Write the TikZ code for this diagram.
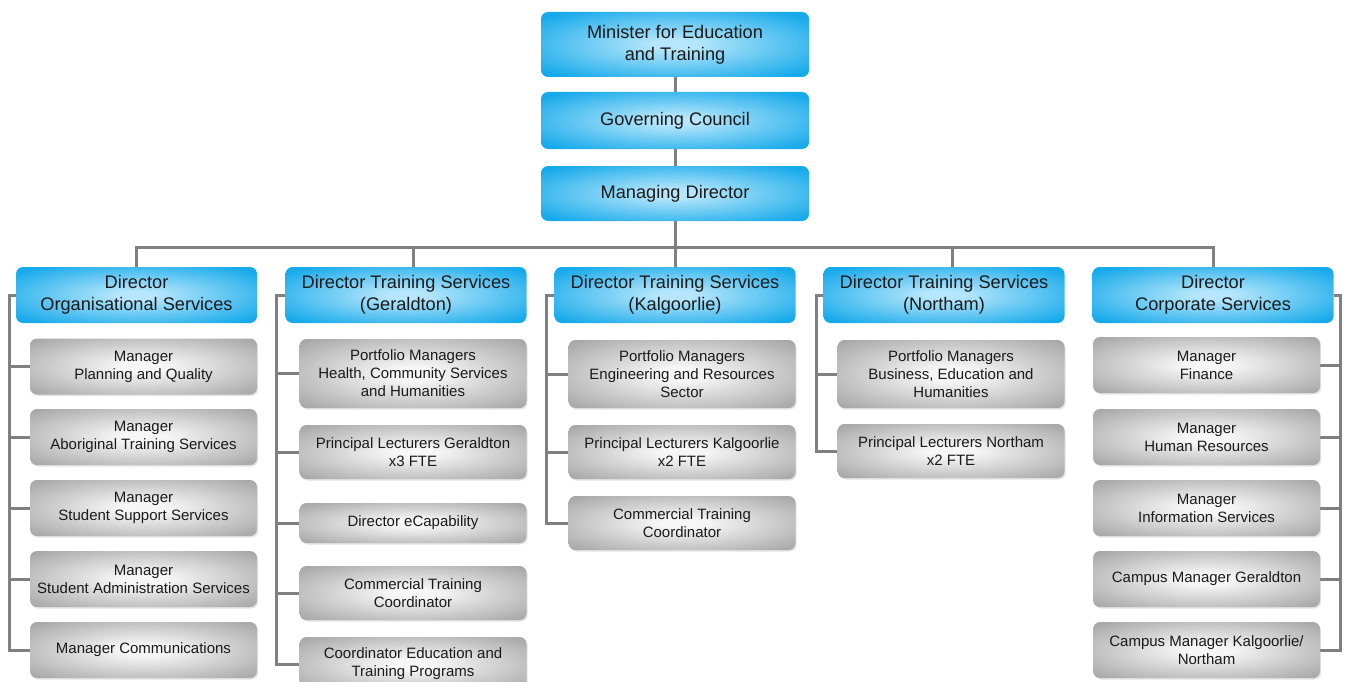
\documentclass[tikz,border=0pt]{standalone}
\usepackage{fontspec}
\setmainfont{Liberation Sans}
\usetikzlibrary{shadows,backgrounds}
\definecolor{bluedark}{HTML}{17AAEB}
\definecolor{bluelight}{HTML}{B5E6FB}
\definecolor{greydark}{HTML}{A2A2A2}
\definecolor{greylight}{HTML}{F6F6F6}
\definecolor{linegrey}{HTML}{808080}
\definecolor{txt}{HTML}{1A1A1A}
\pgfdeclareradialshading{blueglow}{\pgfpoint{0bp}{0bp}}{color(0bp)=(bluelight); color(4bp)=(bluelight); color(32bp)=(bluedark); color(60bp)=(bluedark)}
\pgfdeclareradialshading{greyglow}{\pgfpoint{0bp}{0bp}}{color(0bp)=(greylight); color(5bp)=(greylight); color(36bp)=(greydark); color(60bp)=(greydark)}
\tikzset{
  bluebox/.style={rounded corners=7pt, shading=blueglow,
    draw=none, align=center, inner sep=0pt, text=txt, font=\fontsize{18.2}{22}\selectfont},
  topbox/.style={bluebox, minimum width=268pt},
  dirbox/.style={bluebox, minimum width=241pt, minimum height=56pt},
  kid/.style={rounded corners=7pt, shading=greyglow,
    draw=none, align=center, inner sep=0pt, text=txt, minimum width=227pt, minimum height=56pt,
    font=\fontsize{15}{18}\selectfont,
    drop shadow={opacity=0.22, shadow xshift=1.2pt, shadow yshift=-1.5pt}},
  conn/.style={draw=linegrey, line width=3pt}
}
\begin{document}
\begin{tikzpicture}[x=1pt,y=-1pt]
\useasboundingbox (0,0) rectangle (1346,682);
\begin{scope}
\clip (0,0) rectangle (1346,682);
% top
\node[topbox, minimum height=65pt] (min) at (675,44.5) {Minister for Education\\and Training};
\node[topbox, minimum height=57pt] (gov) at (675,120.5) {Governing Council};
\node[topbox, minimum height=55pt] (md) at (675,193.5) {Managing Director};
% directors
\node[dirbox] (d1) at (136.5,295) {Director\\Organisational Services};
\node[dirbox] (d2) at (406,295) {Director Training Services\\(Geraldton)};
\node[dirbox] (d3) at (675,295) {Director Training Services\\(Kalgoorlie)};
\node[dirbox] (d4) at (944,295) {Director Training Services\\(Northam)};
\node[dirbox] (d5) at (1213,295) {Director\\Corporate Services};
% column 1
\node[kid] (a1) at (143.5,366.5) {Manager\\Planning and Quality};
\node[kid] (a2) at (143.5,437) {Manager\\Aboriginal Training Services};
\node[kid] (a3) at (143.5,508) {Manager\\Student Support Services};
\node[kid] (a4) at (143.5,579) {Manager\\Student Administration Services};
\node[kid] (a5) at (143.5,650) {Manager Communications};
% column 2
\node[kid, minimum height=69pt] (b1) at (413,373.5) {Portfolio Managers\\Health, Community Services\\and Humanities};
\node[kid, minimum height=54pt] (b2) at (413,452) {Principal Lecturers Geraldton\\x3 FTE};
\node[kid, minimum height=40pt] (b3) at (413,523) {Director eCapability};
\node[kid, minimum height=54pt] (b4) at (413,593) {Commercial Training\\Coordinator};
\node[kid, minimum height=54pt] (b5) at (413,664) {Coordinator Education and\\Training Programs};
% column 3
\node[kid, minimum height=68pt] (c1) at (682,374) {Portfolio Managers\\Engineering and Resources\\Sector};
\node[kid, minimum height=54pt] (c2) at (682,452) {Principal Lecturers Kalgoorlie\\x2 FTE};
\node[kid, minimum height=54pt] (c3) at (682,523) {Commercial Training\\Coordinator};
% column 4
\node[kid, minimum height=68pt] (e1) at (951,374) {Portfolio Managers\\Business, Education and\\Humanities};
\node[kid, minimum height=54pt] (e2) at (951,451) {Principal Lecturers Northam\\x2 FTE};
% column 5
\node[kid] (f1) at (1206.5,365) {Manager\\Finance};
\node[kid] (f2) at (1206.5,437) {Manager\\Human Resources};
\node[kid] (f3) at (1206.5,508) {Manager\\Information Services};
\node[kid] (f4) at (1206.5,579) {Campus Manager Geraldton};
\node[kid] (f5) at (1206.5,650) {Campus Manager Kalgoorlie/\\Northam};
\end{scope}
% connectors
\begin{pgfonlayer}{background}
\coordinate (bus) at (675,247);
\draw[conn] (min.south) -- (gov.north);
\draw[conn] (gov.south) -- (md.north);
\draw[conn] (md.south) -- (bus);
\draw[conn] (bus) -| (d1.north);
\draw[conn] (bus) -| ([xshift=7pt]d2.north);
\draw[conn] (bus) -- (d3.north);
\draw[conn] (bus) -| ([xshift=8pt]d4.north);
\draw[conn] (bus) -| (d5.north);
\foreach \k in {a1,a2,a3,a4,a5}{\draw[conn] (d1.west) -- ++(-6,0) |- (\k.west);}
\foreach \k in {b1,b2,b3,b4,b5}{\draw[conn] (d2.west) -- ++(-9,0) |- (\k.west);}
\foreach \k in {c1,c2,c3}{\draw[conn] (d3.west) -- ++(-8,0) |- (\k.west);}
\foreach \k in {e1,e2}{\draw[conn] (d4.west) -- ++(-7,0) |- (\k.west);}
\foreach \k in {f1,f2,f3,f4,f5}{\draw[conn] (d5.east) -- ++(7,0) |- (\k.east);}
\end{pgfonlayer}
\end{tikzpicture}
\end{document}
